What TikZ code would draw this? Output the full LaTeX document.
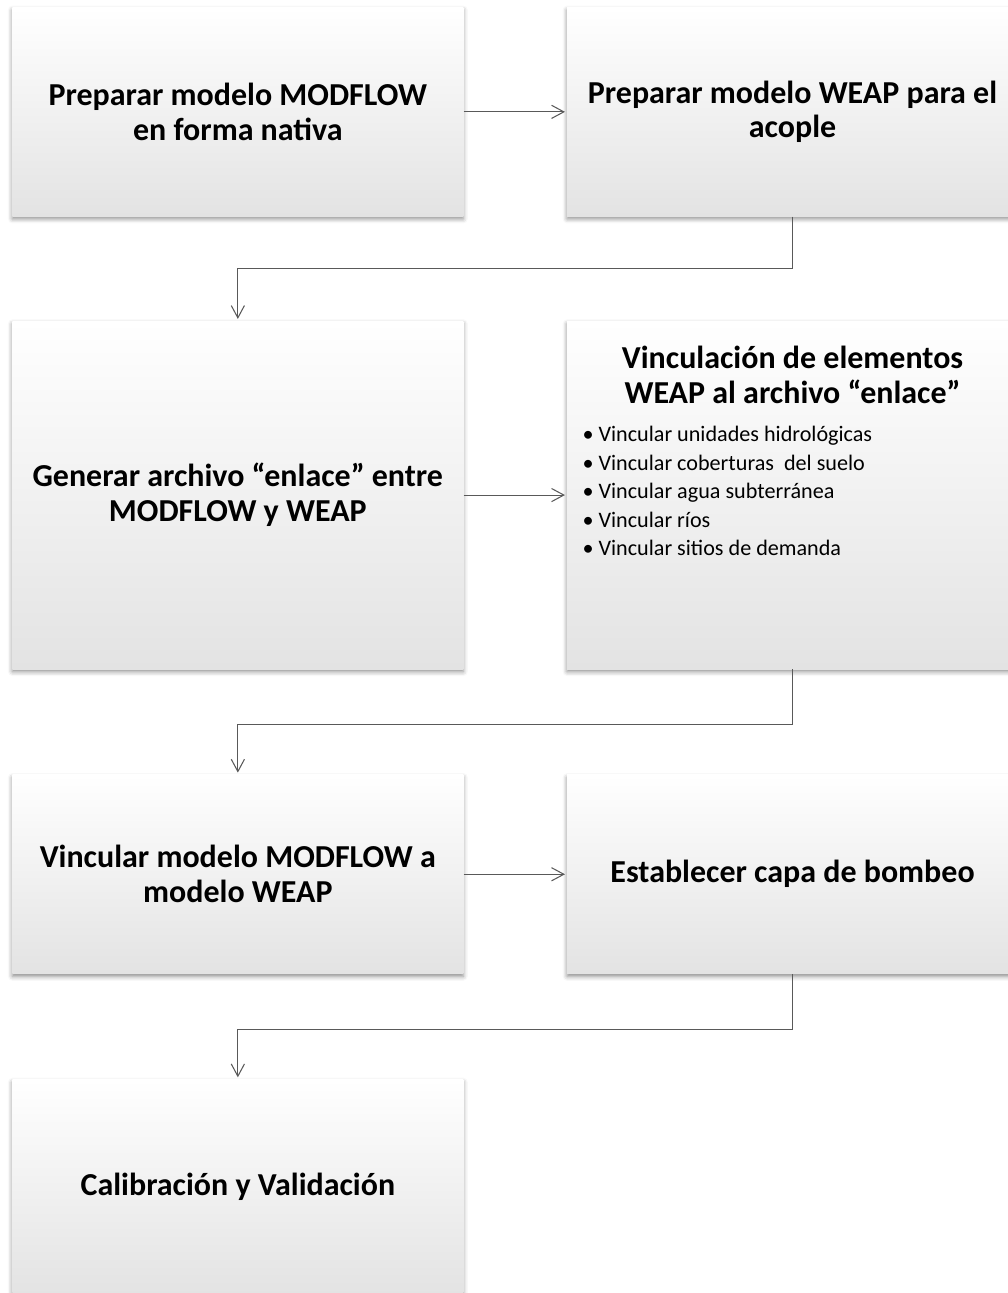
\documentclass[tikz,border=0pt]{standalone}
\usepackage{fontspec}
\setmainfont{Carlito}
\usetikzlibrary{positioning, arrows.meta, shadows.blur}

\tikzset{
  stepbox/.style={rectangle, minimum width=9.02cm, inner sep=0pt, align=center,
    top color=white, middle color=white, bottom color=black!11,
    blur shadow={shadow xshift=0pt, shadow yshift=-1.5pt, shadow blur radius=2.5pt, shadow opacity=45},
    font=\fontsize{18.2pt}{19.8pt}\selectfont\bfseries},
  flow/.style={draw=black!65, line width=0.6pt, -{Straight Barb[length=7pt,width=7.5pt]}, shorten >=1pt},
}

\begin{document}
\begin{tikzpicture}
  \useasboundingbox (0,0) rectangle (20.16,-25.86);
  \clip (0,0) rectangle (20.16,-25.86);

  % row 1
  \node[stepbox, minimum height=4.18cm, anchor=north west] (prep) at (0.24,-0.14)
    {Preparar modelo MODFLOW\\en forma nativa};
  \node[stepbox, minimum height=4.18cm, right=2.06cm of prep] (weap)
    {Preparar modelo WEAP para el\\acople};

  % row 2
  \node[stepbox, minimum height=6.96cm, below=2.08cm of prep] (gen)
    {Generar archivo ``enlace'' entre\\MODFLOW y WEAP};
  \node[stepbox, minimum height=6.96cm, right=2.06cm of gen] (vinc)
    {\parbox[t][6.96cm][t]{8.8cm}{\vspace*{0.5cm}\centering
      Vinculación de elementos\\WEAP al archivo ``enlace''\par
      \vspace{0.2cm}\raggedright\mdseries\fontsize{12.6pt}{16.2pt}\selectfont
      \hspace*{0.2cm}\textbullet\ Vincular unidades hidrológicas\\
      \hspace*{0.2cm}\textbullet\ Vincular coberturas\ \ del suelo\\
      \hspace*{0.2cm}\textbullet\ Vincular agua subterránea\\
      \hspace*{0.2cm}\textbullet\ Vincular ríos\\
      \hspace*{0.2cm}\textbullet\ Vincular sitios de demanda\par}};

  % row 3
  \node[stepbox, minimum height=3.98cm, below=2.1cm of gen] (link)
    {Vincular modelo MODFLOW a\\modelo WEAP};
  \node[stepbox, minimum height=3.98cm, right=2.06cm of link] (bomb)
    {Establecer capa de bombeo};

  % row 4
  \node[stepbox, minimum height=4.3cm, below=2.1cm of link] (cal)
    {Calibración y Validación};

  \draw[flow] (prep) -- (weap);
  \draw[flow] (gen) -- (vinc);
  \draw[flow] (link) -- (bomb);
  \draw[flow] (weap.south) -- ++(0,-1.04) -| (gen.north);
  \draw[flow] (vinc.south) -- ++(0,-1.1) -| (link.north);
  \draw[flow] (bomb.south) -- ++(0,-1.1) -| (cal.north);
\end{tikzpicture}
\end{document}
